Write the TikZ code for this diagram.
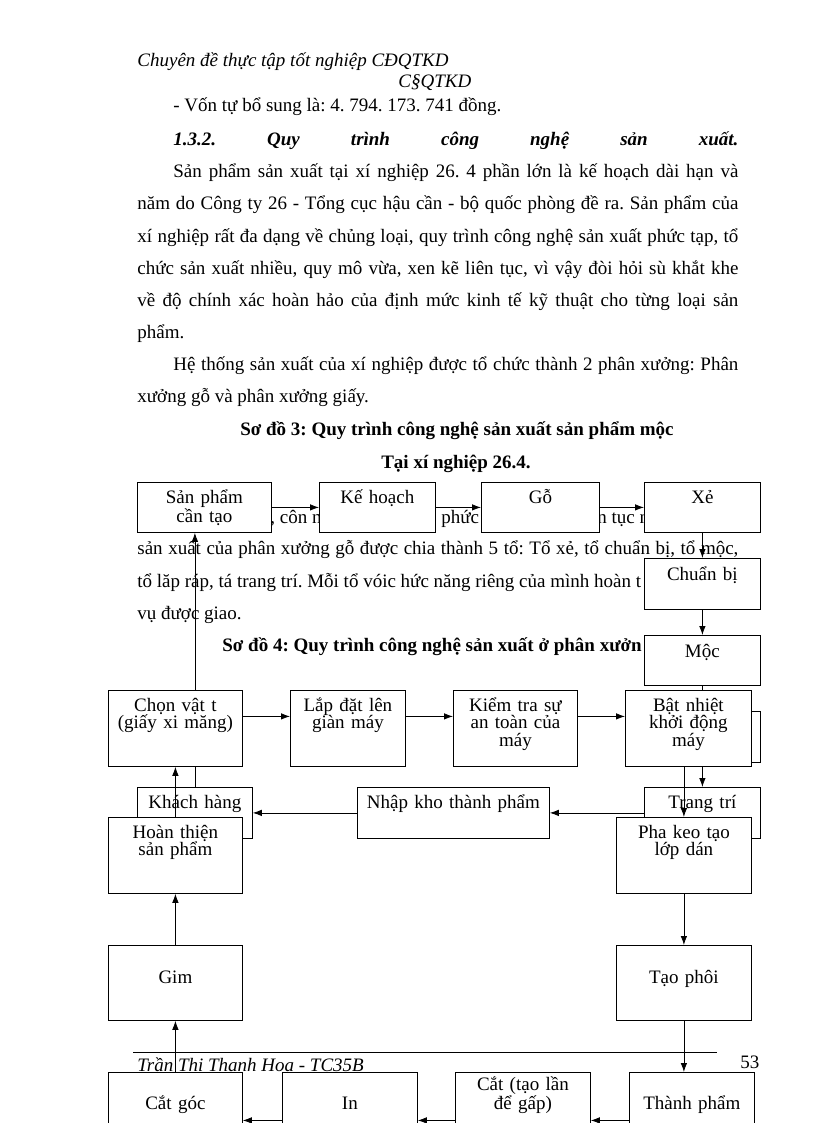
\documentclass[tikz,border=0pt]{standalone}
\usepackage{fontspec}
\setmainfont{Liberation Serif}
\usetikzlibrary{arrows.meta}
\frenchspacing
\newcommand{\bodyfont}{\fontsize{19}{17.5}\selectfont}
\newcommand{\jline}[2]{\makebox[#1][s]{#2}}

\begin{document}
\begin{tikzpicture}[x=1pt,y=-1pt,line width=0.8pt,>={Latex[length=9pt,width=6.5pt]},
  txt/.style={anchor=base west,inner sep=0pt,font=\bodyfont},
  box/.style={draw,fill=white,anchor=north west,inner sep=0pt,align=center,
    text height=21pt,font=\bodyfont}]
\path[fill=white,use as bounding box] (0,0) rectangle (816,1123);

% page text
\node[txt] (hdr) at (137,67) {\itshape Chuyên đề thực tập tốt nghiệp CĐQTKD};
\node[txt] (hdrb) at (398,88) {\itshape C§QTKD};
\node[txt] (von) at (173,112) {- Vốn tự bổ sung là: 4. 794. 173. 741 đồng.};
\node[txt] (muc) at (173,146) {\jline{565pt}{\bfseries\itshape 1.3.2. Quy trình công nghệ sản xuất.}};
\node[txt] (pa1) at (173,178) {\jline{565pt}{Sản phẩm sản xuất tại xí nghiệp 26. 4 phần lớn là kế hoạch dài hạn và}};
\node[txt] (pa2) at (137,210) {\jline{601pt}{năm do Công ty 26 - Tổng cục hậu cần - bộ quốc phòng đề ra. Sản phẩm của}};
\node[txt] (pa3) at (137,242) {\jline{601pt}{xí nghiệp rất đa dạng về chủng loại, quy trình công nghệ sản xuất phức tạp, tổ}};
\node[txt] (pa4) at (137,274) {\jline{601pt}{chức sản xuất nhiều, quy mô vừa, xen kẽ liên tục, vì vậy đòi hỏi sù khắt khe}};
\node[txt] (pa5) at (137,306) {\jline{601pt}{về độ chính xác hoàn hảo của định mức kinh tế kỹ thuật cho từng loại sản}};
\node[txt] (pa6) at (137,338) {phẩm.};
\node[txt] (pb1) at (173,370) {\jline{565pt}{Hệ thống sản xuất của xí nghiệp được tổ chức thành 2 phân xưởng: Phân}};
\node[txt] (pb2) at (137,402) {xưởng gỗ và phân xưởng giấy.};
\node[txt,anchor=base] (sd3) at (457,435) {\bfseries Sơ đồ 3: Quy trình công nghệ sản xuất sản phẩm mộc};
\node[txt,anchor=base] (sd3b) at (456,468) {\bfseries Tại xí nghiệp 26.4.};
\node[txt] (fr1) at (270,523) {, côn n};
\node[txt] (fr2) at (441,523) {phức};
\node[txt] (fr3) at (597,523) {n tục n};
\node[txt] (pc1) at (137,554) {\jline{601pt}{sản xuất của phân xưởng gỗ được chia thành 5 tổ: Tổ xẻ, tổ chuẩn bị, tổ mộc,}};
\node[txt] (pc2) at (137,587) {tổ lăp ráp, tá trang trí. Mỗi tổ vóic hức năng riêng của mình hoàn t};
\node[txt] (pc3) at (137,619) {vụ được giao.};
\node[txt] (sd4) at (222,651) {\bfseries Sơ đồ 4: Quy trình công nghệ sản xuất ở phân xưởn};

% footer
\draw (133,1052) -- (717,1052);
\node[txt] (ft) at (137,1071) {\itshape Trần Thi Thanh Hoa - TC35B};
\node[txt] (pg) at (740,1068) {53};

% so do 3
\node[box,text width=134pt,text depth=29pt] (sanpham) at (137,482) {Sản phẩm\\cần tạo};
\node[box,text width=116pt,text depth=29pt] (kehoach) at (319,482) {Kế hoạch};
\node[box,text width=118pt,text depth=29pt] (go) at (481,482) {Gỗ};
\node[box,text width=116pt,text depth=29pt] (xe) at (644,482) {Xẻ};
\node[box,text width=116pt,text height=22pt,text depth=29pt] (chuanbi) at (644,558) {Chuẩn bị};
\node[box,text width=116pt,text height=22pt,text depth=28pt] (moc) at (644,635) {Mộc};
\node[box,text width=116pt,text depth=30pt] (lapghep) at (644,711) {};
\node[box,text width=116pt,text depth=30pt] (trangtri) at (644,787) {Trang trí};
\node[box,text width=192pt,text depth=30pt] (nhapkho) at (357,787) {Nhập kho thành phẩm};
\node[box,text width=115pt,text depth=30pt] (khachhang) at (137,787) {Khách hàng};
\draw[->] (sanpham) -- (kehoach);
\draw[->] (kehoach) -- (go);
\draw[->] (go) -- (xe);
\draw[->] (xe) -- (chuanbi);
\draw[->] (chuanbi) -- (moc);
\draw[->] (moc) -- (lapghep);
\draw[->] (lapghep) -- (trangtri);
\draw[->] (trangtri) -- (nhapkho);
\draw[->] (nhapkho) -- (khachhang);
\draw[->] (khachhang) -- (khachhang |- sanpham.south);

% so do 4
\node[box,text width=134pt,text depth=55pt] (chon) at (108,690) {Chọn vật t\\(giấy xi măng)};
\node[box,text width=115pt,text depth=55pt] (lapdat) at (290,690) {Lắp đặt lên\\giàn máy};
\node[box,text width=124pt,text depth=55pt] (kiemtra) at (453,690) {Kiểm tra sự\\an toàn của\\máy};
\node[box,text width=126pt,text depth=55pt] (batnhiet) at (625,690) {Bật nhiệt\\khởi động\\máy};
\node[box,text width=135pt,text depth=55pt] (phakeo) at (616,817) {Pha keo tạo\\lớp dán};
\node[box,text width=134pt,text depth=55pt] (hoanthien) at (108,817) {Hoàn thiện\\sản phẩm};
\node[box,text width=134pt,text height=38pt,text depth=37pt] (gim) at (108,945) {Gim};
\node[box,text width=135pt,text height=38pt,text depth=37pt] (taophoi) at (616,945) {Tạo phôi};
\node[box,text width=134pt,text height=37pt,text depth=59pt] (catgoc) at (108,1072) {Cắt góc};
\node[box,text width=135pt,text height=37pt,text depth=59pt] (inan) at (282,1072) {In};
\node[box,text width=135pt,text height=18pt,text depth=78pt] (catlan) at (455,1072) {Cắt (tạo lần\\để gấp)};
\node[box,text width=125pt,text height=37pt,text depth=59pt] (thanhpham) at (629,1072) {Thành phẩm};
\draw[->] ([yshift=12pt]chon.east) -- ([yshift=12pt]lapdat.west);
\draw[->] ([yshift=12pt]lapdat.east) -- ([yshift=12pt]kiemtra.west);
\draw[->] ([yshift=12pt]kiemtra.east) -- ([yshift=12pt]batnhiet.west);
\draw[->] (batnhiet.south -| phakeo) -- (phakeo);
\draw[->] (phakeo) -- (taophoi);
\draw[->] (taophoi) -- (taophoi |- thanhpham.north);
\draw[->] (thanhpham) -- (catlan);
\draw[->] (catlan) -- (inan);
\draw[->] (inan) -- (catgoc);
\draw[->] (catgoc) -- (gim);
\draw[->] (gim) -- (hoanthien);
\draw[->] (hoanthien) -- (chon);
\end{tikzpicture}
\end{document}
